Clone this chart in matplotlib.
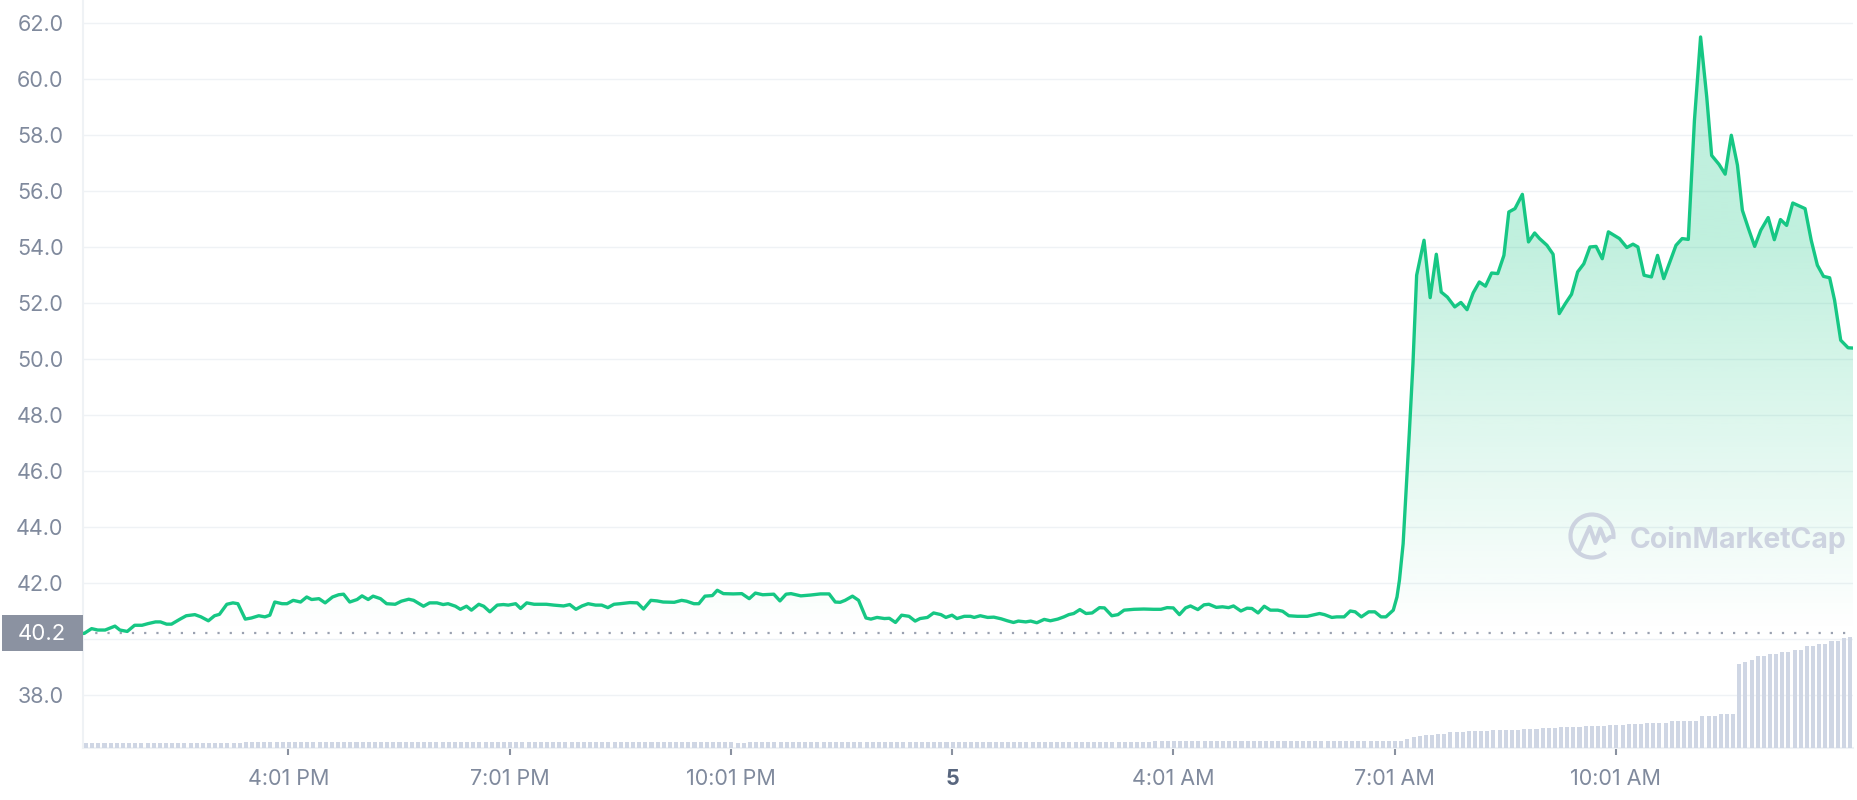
import numpy as np
import matplotlib
matplotlib.use('Agg')
import matplotlib.pyplot as plt
from matplotlib.patches import Arc, Rectangle, Polygon

plt.rcParams['font.family'] = ['Inter', 'DejaVu Sans']

# price: minutes after 13:14 (day 4), value in USD
price_t = [0, 1, 7, 12, 18, 26, 30, 36, 42, 48, 53, 59, 63, 68, 72, 79, 84, 91, 96, 102, 107,
           111, 117, 122, 126, 132, 137, 143, 148, 152, 156, 162, 166, 171, 177, 182, 186, 192, 197, 203, 208,
           212, 217, 223, 227, 232, 236, 242, 247, 254, 259, 265, 269, 277, 282, 288, 293, 297, 303, 307, 312,
           316, 322, 326, 331, 337, 342, 346, 352,
           356, 361, 367, 377, 383, 391, 396, 401, 406, 411, 417, 422, 427, 432, 437, 445, 451, 456, 462, 467,
           472, 481, 487, 491, 497, 501, 506, 512, 516, 521, 529, 536, 542, 547, 553, 562, 567, 572, 576, 584,
           592, 600, 607, 612, 616, 620, 626, 631, 637, 641, 646, 652, 656, 661, 666, 672, 677, 681, 687, 692,
           698, 702, 707, 711, 717, 722,
           725, 730, 736, 741, 747, 752, 757, 761, 767, 771, 776, 782, 787, 793, 798, 802, 806, 811, 816, 821,
           827, 831, 837, 842, 847, 855, 863, 871, 877, 882, 887, 892, 897, 901, 907, 912, 916, 922, 927, 932,
           936, 942, 947, 951, 956, 961, 966, 972, 976, 981, 988, 996, 1006, 1010, 1016, 1020, 1026, 1031, 1035, 1040,
           1046, 1051, 1056, 1060, 1066,
           1069, 1071, 1074, 1076, 1079, 1082, 1085, 1091, 1096, 1101, 1105, 1110, 1116, 1121, 1126, 1131, 1136,
           1141, 1146, 1151, 1156, 1160, 1165, 1171, 1176, 1181, 1185, 1191, 1196, 1201, 1206, 1211, 1216, 1221,
           1226, 1231, 1236, 1241,
           1250, 1256, 1261, 1265, 1270, 1276, 1281, 1286, 1291, 1296, 1301, 1306, 1311, 1316, 1321, 1325, 1331,
           1336, 1341, 1346, 1350, 1355, 1360, 1365, 1371, 1376, 1381, 1386, 1391, 1397, 1401, 1406, 1411, 1416,
           1421, 1425, 1430, 1436, 1440]
price_v = [40.20, 40.20, 40.37, 40.32, 40.32, 40.46, 40.32, 40.27, 40.49, 40.49, 40.55,
           40.61, 40.61, 40.53, 40.53, 40.71, 40.83, 40.87, 40.79, 40.65, 40.83,
           40.88, 41.24, 41.29, 41.26, 40.71, 40.75, 40.83, 40.79, 40.85, 41.32,
           41.26, 41.26, 41.38, 41.32, 41.50, 41.41, 41.44, 41.29, 41.50, 41.58,
           41.60, 41.32, 41.41, 41.54, 41.41, 41.53, 41.44, 41.26, 41.24, 41.35,
           41.42, 41.38, 41.17, 41.29, 41.29, 41.23, 41.26, 41.17, 41.06, 41.17,
           41.03, 41.24, 41.17, 40.97, 41.21, 41.23, 41.21, 41.26,
           41.09, 41.29, 41.24, 41.24, 41.21, 41.18, 41.23, 41.06, 41.18, 41.26,
           41.21, 41.21, 41.12, 41.24, 41.26, 41.30, 41.29, 41.07, 41.38, 41.36,
           41.32, 41.31, 41.38, 41.35, 41.26, 41.26, 41.53, 41.55, 41.74, 41.62,
           41.61, 41.62, 41.44, 41.64, 41.58, 41.60, 41.36, 41.60, 41.62, 41.54,
           41.57, 41.61, 41.61, 41.32, 41.31, 41.38, 41.53, 41.38, 40.75, 40.71,
           40.77, 40.73, 40.74, 40.59, 40.85, 40.81, 40.64, 40.73, 40.77, 40.93,
           40.87, 40.77, 40.85, 40.73, 40.81, 40.81,
           40.77, 40.83, 40.77, 40.78, 40.72, 40.65, 40.59, 40.64, 40.61, 40.64,
           40.58, 40.70, 40.65, 40.71, 40.79, 40.87, 40.91, 41.05, 40.91, 40.93,
           41.12, 41.11, 40.83, 40.87, 41.03, 41.06, 41.07, 41.06, 41.06, 41.12,
           41.11, 40.87, 41.11, 41.18, 41.05, 41.22, 41.24, 41.13, 41.15, 41.12,
           41.18, 41.00, 41.10, 41.09, 40.93, 41.17, 41.03, 41.03, 40.99, 40.83,
           40.81, 40.81, 40.91, 40.87, 40.77, 40.79, 40.79, 41.00, 40.97, 40.79,
           40.97, 40.97, 40.79, 40.79, 41.03,
           41.50, 42.10, 43.40, 44.95, 47.33, 49.83, 52.99, 54.24, 52.19, 53.74, 52.39, 52.21, 51.86, 52.02,
           51.76, 52.36, 52.75, 52.60, 53.07, 53.05, 53.70, 55.25, 55.37, 55.88, 54.18, 54.50, 54.30, 54.06,
           53.74, 51.62, 51.98, 52.31, 53.11, 53.40, 54.00, 54.02, 53.58, 54.54,
           54.30, 53.98, 54.10, 54.00, 52.99, 52.93, 53.70, 52.87, 53.46, 54.06, 54.30, 54.27, 58.52, 61.50,
           59.36, 57.27, 56.95, 56.60, 57.99, 56.92, 55.31, 54.65, 54.02, 54.60, 55.05, 54.26, 54.98, 54.77,
           55.57, 55.45, 55.37, 54.24, 53.35, 52.95, 52.90, 52.10, 50.67, 50.40, 50.39]
open_price = 40.2

# 5-minute volume bars, run-length encoded (count, level in $M)
vol_counts = [26, 80, 2, 66, 41, 1, 1, 1, 2, 2, 3, 4, 5, 3, 3, 4, 4, 3, 3, 4, 5, 3, 3,
              1, 1, 1, 2, 2, 2, 2, 2, 2, 2, 1, 1]
vol_levels = [5.3, 6.3, 5.3, 6.3, 7.0, 9.0, 10.7, 11.7, 12.7, 14.3, 15.7, 16.7, 17.7, 18.7, 20.0,
              21.0, 22.3, 23.3, 24.3, 25.3, 26.7, 31.7, 34.3,
              84.0, 85.7, 88.0, 91.7, 94.0, 96.0, 98.3, 101.7, 104.3, 106.7, 110.0, 111.0]

tick_minutes = [167, 347, 527, 707, 887, 1067, 1247]
tick_labels = ['4:01 PM', '7:01 PM', '10:01 PM', '5', '4:01 AM', '7:01 AM', '10:01 AM']

green = '#16c784'
grid_c = '#eff2f5'
label_c = '#808a9d'
vol_c = '#cfd6e4'

W, H = 1858, 800
fig = plt.figure(figsize=(W / 100, H / 100), dpi=100)
fig.patch.set_facecolor('white')
ax = fig.add_axes([83 / W, 52 / H, 1770 / W, 748 / H])
ax.set_zorder(1)
ax.patch.set_visible(False)

ymin, ymax = 36.107, 62.82
t = np.array(price_t, dtype=float)
v = np.array(price_v)

# gradient fill under the line, down to the opening price
poly = Polygon(np.column_stack([np.r_[t[0], t, t[-1]], np.r_[open_price, v, open_price]]),
               closed=True, fc='none', ec='none')
ax.add_patch(poly)
levels = np.linspace(open_price, ymax, 256)
alpha = np.clip(0.019 * (levels - open_price), 0, 0.27)
grad = np.zeros((256, 1, 4))
grad[..., 0] = 22 / 255
grad[..., 1] = 199 / 255
grad[..., 2] = 132 / 255
grad[:, 0, 3] = alpha
im = ax.imshow(grad, extent=[0, 1440, open_price, ymax], origin='lower', aspect='auto',
               interpolation='bilinear', zorder=1)
im.set_clip_path(poly)

ax.plot(t, v, color=green, lw=2.4, solid_joinstyle='round', zorder=3)
ax.axhline(open_price, color='#9aa1b0', lw=1.6, ls=(0, (1, 4.5)), zorder=2)

ax.set_xlim(0, 1440)
ax.set_ylim(ymin, ymax)
yt = np.arange(38, 63, 2)
ax.set_yticks(yt)
ax.set_yticklabels(['' if y == 40 else f'{y:.1f}' for y in yt])
ax.grid(axis='y', color=grid_c, lw=1.0, zorder=0)
ax.set_axisbelow(True)
ax.tick_params(axis='y', length=0, pad=14, labelsize=15.5, labelcolor=label_c)
ax.set_xticks(tick_minutes)
ax.set_xticklabels(tick_labels)
ax.tick_params(axis='x', length=5, width=1.5, color='#8a91a0', pad=10, labelsize=15.5, labelcolor=label_c)
for lab in ax.get_xticklabels():
    if lab.get_text() == '5':
        lab.set_fontweight('bold')
        lab.set_color('#58667e')
for s in ['top', 'right']:
    ax.spines[s].set_visible(False)
for s in ['left', 'bottom']:
    ax.spines[s].set_color(grid_c)
    ax.spines[s].set_linewidth(1.5)

# volume on a hidden twin axis
vol = np.repeat(vol_levels, vol_counts)
ax_vol = ax.twinx()
ax_vol.set_zorder(2)
ax_vol.patch.set_visible(False)
ax_vol.bar(np.arange(len(vol)) * 5 + 2.5, vol, width=3.3, color=vol_c, linewidth=0)
ax_vol.set_ylim(0, max(vol) / 0.1484)
ax_vol.set_xlim(0, 1440)
ax_vol.set_yticks([])
for s in ax_vol.spines.values():
    s.set_visible(False)

# overlay in pixel coordinates: price tag and watermark
ov = fig.add_axes([0, 0, 1, 1], zorder=5)
ov.set_xlim(0, W)
ov.set_ylim(0, H)
ov.axis('off')
yp = ax.transData.transform((0, open_price))[1]
ov.add_patch(Rectangle((2, yp - 18), 81, 36, fc='#8b92a1', ec='none'))
ov.text(42, yp - 0.5, f'{open_price:.1f}', color='white', fontsize=16, ha='center', va='center')

wm = '#cdd3e0'
cx, cy = 1592, 264
ov.add_patch(Arc((cx, cy), 43, 43, theta1=-8, theta2=310, color=wm, lw=3.0))
mx = [-12.7, -2.3, 3.3, 8.3, 13.3, 18.3]
my = [-14.3, 9.0, -7.0, 7.3, -5.0, -1.0]
ov.plot([cx + a for a in mx], [cy + b for b in my], color=wm, lw=3.0, solid_joinstyle='round',
        solid_capstyle='round')
ov.text(1630, 252, 'CoinMarketCap', color=wm, fontsize=20.4, fontweight='bold', ha='left', va='baseline')

fig.savefig('out.png', dpi=100, facecolor='white')
